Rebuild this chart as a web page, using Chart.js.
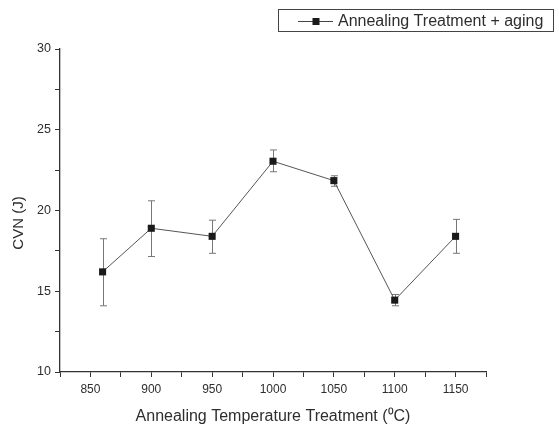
<!DOCTYPE html>
<html>
<head>
<meta charset="utf-8">
<script src="https://cdn.jsdelivr.net/npm/chart.js@4"></script>
<style>
html,body{margin:0;padding:0;background:#fff}
</style>
</head>
<body>
<canvas id="cvn" width="559" height="427"></canvas>
<script>
// values
const temps = [860, 900, 950, 1000, 1050, 1100, 1150]
const cvn = [16.2, 18.9, 18.4, 23.05, 21.85, 14.45, 18.4]
const errLow = [14.1, 17.15, 17.35, 22.4, 21.5, 14.1, 17.35]
const errHigh = [18.25, 20.6, 19.4, 23.75, 22.15, 14.8, 19.45]
const seriesName = 'Annealing Treatment + aging'
const xTitle = 'Annealing Temperature Treatment (\u2070C)'
const yTitle = 'CVN (J)'

const ink = '#2e2e2e'
const fam = '"Liberation Sans", Arial, sans-serif'

// error bars, drawn through the chart scales
const errorBars = {
  id: 'errorBars',
  beforeDatasetsDraw(chart) {
    const {ctx, scales: {x, y}} = chart
    ctx.save()
    ctx.strokeStyle = '#777'
    ctx.lineWidth = 1
    temps.forEach((t, i) => {
      const px = Math.round(x.getPixelForValue(t)) + 0.5
      const top = y.getPixelForValue(errHigh[i])
      const bot = y.getPixelForValue(errLow[i])
      ctx.beginPath()
      ctx.moveTo(px, top); ctx.lineTo(px, bot)
      ctx.moveTo(px - 3.5, top); ctx.lineTo(px + 3.5, top)
      ctx.moveTo(px - 3.5, bot); ctx.lineTo(px + 3.5, bot)
      ctx.stroke()
    })
    ctx.restore()
  }
}

// boxed legend top right + y title (sits a bit below the axis middle)
const extras = {
  id: 'extras',
  afterDraw(chart) {
    const ctx = chart.ctx
    ctx.save()
    ctx.strokeStyle = '#444'
    ctx.lineWidth = 1
    ctx.strokeRect(278.5, 9.5, 275, 22)
    ctx.strokeStyle = '#444'
    ctx.beginPath()
    ctx.moveTo(298, 21.5); ctx.lineTo(333, 21.5)
    ctx.stroke()
    ctx.fillStyle = '#1a1a1a'
    ctx.fillRect(312.5, 18, 7, 7)
    ctx.fillStyle = ink
    ctx.font = '16px ' + fam
    ctx.textBaseline = 'middle'
    ctx.textAlign = 'left'
    ctx.fillText(seriesName, 338, 21.5)

    ctx.translate(18.5, 223)
    ctx.rotate(-Math.PI / 2)
    ctx.textAlign = 'center'
    ctx.font = '15px ' + fam
    ctx.fillText(yTitle, 0, 0)
    ctx.restore()
  }
}

new Chart(document.getElementById('cvn'), {
  type: 'line',
  data: {
    datasets: [{
      label: seriesName,
      data: temps.map((t, i) => ({x: t, y: cvn[i]})),
      borderColor: '#555',
      borderWidth: 1,
      pointStyle: 'rect',
      pointRadius: 5,
      pointBorderWidth: 0,
      pointBackgroundColor: '#1a1a1a',
      pointBorderColor: '#1a1a1a',
      tension: 0
    }]
  },
  options: {
    responsive: false,
    animation: false,
    devicePixelRatio: 1,
    layout: {padding: {left: 0, right: 73, top: 49, bottom: 0}},
    plugins: {legend: {display: false}, tooltip: {enabled: false}},
    scales: {
      x: {
        type: 'linear',
        min: 825,
        max: 1175,
        afterFit(scale) { scale.height = 55 },
        border: {color: '#333', width: 1.3},
        grid: {drawOnChartArea: false, drawTicks: true, tickLength: 5, color: '#333'},
        ticks: {
          stepSize: 25,
          autoSkip: false,
          maxRotation: 0,
          padding: 5,
          color: ink,
          font: {family: fam, size: 12},
          callback: v => (v % 50 === 0 ? v : '')
        },
        title: {
          display: true,
          text: xTitle,
          color: ink,
          font: {family: fam, size: 16},
          padding: {top: 0, bottom: 1}
        }
      },
      y: {
        min: 10,
        max: 30,
        afterFit(scale) { scale.width = 60 },
        border: {color: '#333', width: 1.3},
        grid: {drawOnChartArea: false, drawTicks: true, tickLength: 5, color: '#333'},
        ticks: {
          stepSize: 2.5,
          autoSkip: false,
          padding: 4,
          color: ink,
          font: {family: fam, size: 12.5},
          callback: v => (v % 5 === 0 ? v : '')
        }
      }
    }
  },
  plugins: [errorBars, extras]
})
</script>
</body>
</html>
